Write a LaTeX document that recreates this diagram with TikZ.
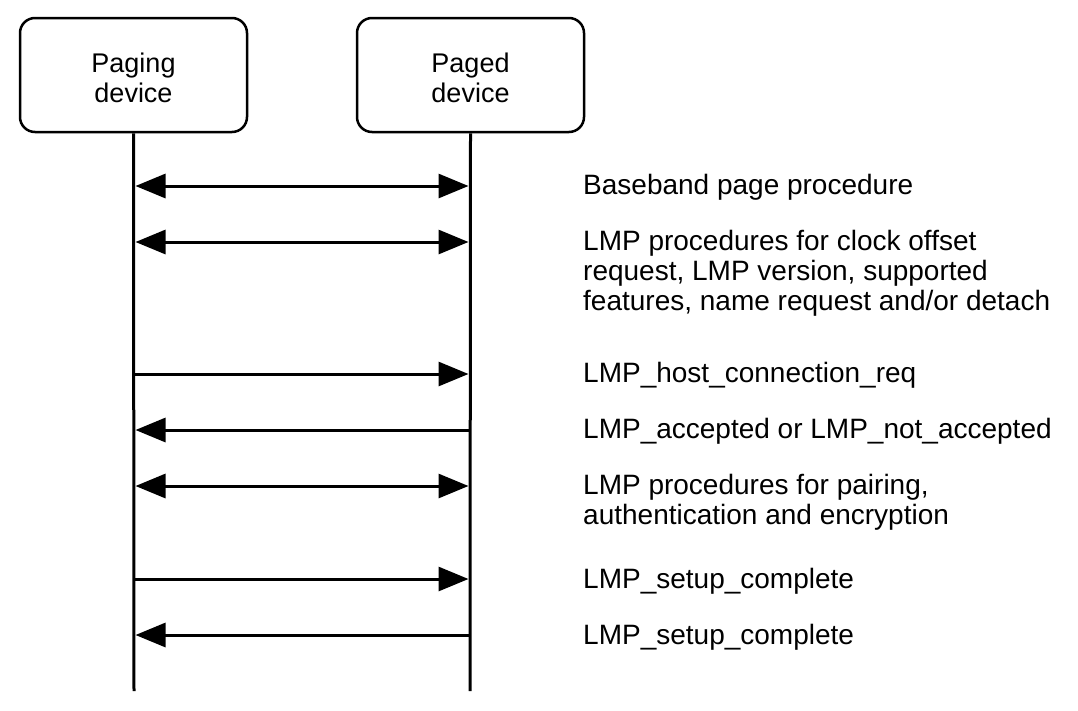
\documentclass[tikz,border=0pt]{standalone}
\usepackage{fontspec}
\setmainfont{Liberation Sans}
\usetikzlibrary{arrows.meta}
\newcommand{\boxtext}[2]{\raisebox{-13pt}[0pt][0pt]{\begin{tabular}{@{}c@{}}#1\\#2\end{tabular}}}
\begin{document}
\begin{tikzpicture}[x=1pt,y=-1pt,
  actor/.style={draw, line width=2.5pt, rounded corners=15pt, minimum width=227pt, minimum height=114pt, inner sep=0pt, font=\fontsize{27}{30}\selectfont},
  life/.style={line width=3pt},
  msg/.style={line width=3pt, -{Triangle[length=30pt,width=24pt]}, shorten >=1.5pt},
  bmsg/.style={line width=3pt, {Triangle[length=30pt,width=24pt]}-{Triangle[length=30pt,width=24pt]}, shorten >=1.5pt, shorten <=1.5pt},
  lbl/.style={anchor=north west, align=left, inner sep=0pt, font=\fontsize{28}{30}\selectfont}]
\useasboundingbox (0,0) rectangle (1078,710);
\node[actor] (A) at (133.5,75) {\boxtext{Paging}{device}};
\node[actor] (B) at (470.5,75) {\boxtext{Paged}{device}};
\coordinate (Aend) at (134,691);
\coordinate (Bend) at (470,691);
\draw[life] (A.south) -- (Aend);
\draw[life] (B.south) -- (Bend);
\foreach \n/\y in {1/186,2/242,3/374,4/430,5/486,6/579,7/635}{
  \coordinate (a\n) at (134,\y);
  \coordinate (b\n) at (470,\y);
}
\draw[bmsg] (a1) -- (b1);
\draw[bmsg] (a2) -- (b2);
\draw[msg] (a3) -- (b3);
\draw[msg] (b4) -- (a4);
\draw[bmsg] (a5) -- (b5);
\draw[msg] (a6) -- (b6);
\draw[msg] (b7) -- (a7);
\node[lbl] (l1) at (583,174.5) {Baseband page procedure};
\node[lbl] (l2) at (583,230.5) {LMP procedures for clock offset\\request, LMP version, supported\\features, name request and/or detach};
\node[lbl] (l3) at (583,362.5) {LMP\_host\_connection\_req};
\node[lbl] (l4) at (583,418.5) {LMP\_accepted or LMP\_not\_accepted};
\node[lbl] (l5) at (583,474.5) {LMP procedures for pairing,\\authentication and encryption};
\node[lbl] (l6) at (583,567.5) {LMP\_setup\_complete};
\node[lbl] (l7) at (583,623.5) {LMP\_setup\_complete};
\end{tikzpicture}
\end{document}
